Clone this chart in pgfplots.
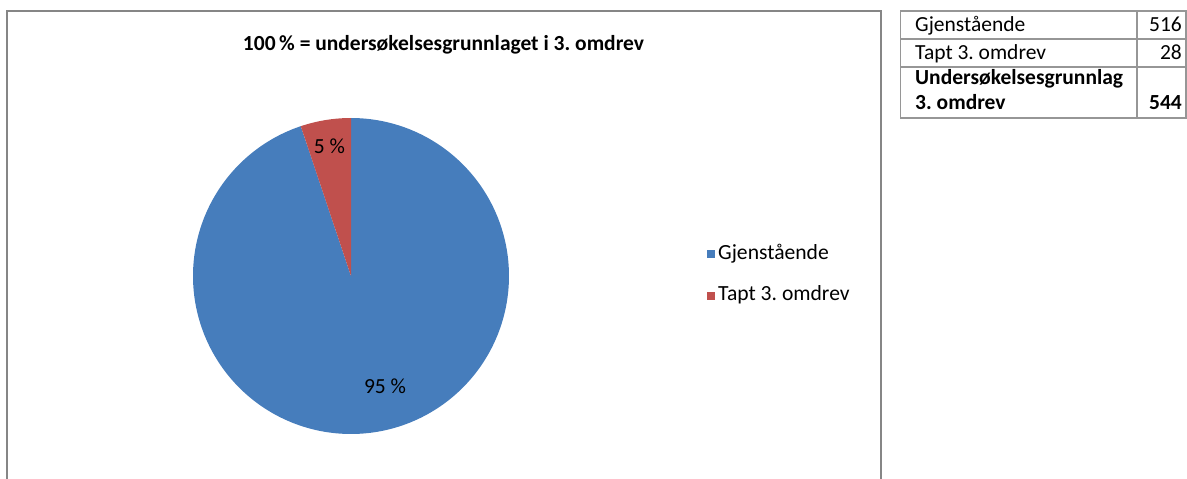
\documentclass[border=0pt]{standalone}
\usepackage{fontspec}
\setmainfont{Carlito}
\usepackage{pgfplots}
\pgfplotsset{compat=1.18}
\usepgfplotslibrary{polar}
\definecolor{pieblue}{RGB}{70,125,188}
\definecolor{piered}{RGB}{192,80,77}
\definecolor{framegray}{RGB}{134,134,134}
\definecolor{tablegray}{RGB}{150,150,150}
\def\vGj{516}
\def\vTa{28}
\frenchspacing
\begin{document}
\begin{tikzpicture}[x=1pt,y=1pt]
\useasboundingbox (0,0) rectangle (1187,479);
\clip (0,0) rectangle (1187,479);
\pgfmathsetmacro\fracGj{\vGj/(\vGj+\vTa)}
\pgfmathsetmacro\fracTa{\vTa/(\vGj+\vTa)}
\pgfmathsetmacro\endGj{90-360*\fracGj}
\pgfmathsetmacro\endTa{90+360*\fracTa}
% chart frame
\draw[framegray, line width=2pt] (6.5,-10) -- (6.5,468) -- (881,468) -- (881,-10);
% title
\node[font=\bfseries\fontsize{21.5}{24}\selectfont, anchor=base] at (443.5,428) {100\,\% = undersøkelsesgrunnlaget i 3. omdrev};
\begin{polaraxis}[at={(351pt,203pt)}, anchor=center, scale only axis,
  width=316pt, height=316pt, hide axis, xmin=0, xmax=360, ymin=0, ymax=1,
  clip=false]
\addplot[draw=none, fill=pieblue, domain=\endGj:90, samples=400] {1} -- (axis cs:0,0) -- cycle;
\addplot[draw=none, fill=piered, domain=90:\endTa, samples=60] {1} -- (axis cs:0,0) -- cycle;
\node[font=\fontsize{21.5}{24}\selectfont] at (axis cs:99.4,0.834) {5 \%};
\node[font=\fontsize{21.5}{24}\selectfont] at (axis cs:-72.8,0.729) {95 \%};
\end{polaraxis}
% legend
\fill[pieblue] (707,220.5) rectangle (715,228.5);
\node[font=\fontsize{21.6}{24}\selectfont, anchor=base west, inner sep=0pt] at (718,219) {Gjenstående};
\fill[piered] (707,178.5) rectangle (715,186.5);
\node[font=\fontsize{21.6}{24}\selectfont, anchor=base west, inner sep=0pt] at (718,178) {Tapt 3. omdrev};
% table
\draw[tablegray, line width=1.6pt] (900.5,468) rectangle (1186,361);
\draw[tablegray, line width=1.6pt] (900.5,440) -- (1186,440);
\draw[tablegray, line width=1.6pt] (900.5,412) -- (1186,412);
\draw[tablegray, line width=1.6pt] (1137,468) -- (1137,361);
\begin{scope}[every node/.style={font=\fontsize{21.5}{24}\selectfont, inner sep=0pt}]
\node[anchor=base west] at (915,447) {Gjenstående};
\node[anchor=base west] at (915,419) {Tapt 3. omdrev};
\node[anchor=base west, font=\bfseries\fontsize{21.5}{24}\selectfont] at (915,394) {Undersøkelsesgrunnlag};
\node[anchor=base west, font=\bfseries\fontsize{21.5}{24}\selectfont] at (915,369) {3. omdrev};
\node[anchor=base east] at (1182,447) {516};
\node[anchor=base east] at (1182,419) {28};
\node[anchor=base east, font=\bfseries\fontsize{21.5}{24}\selectfont] at (1182,369) {544};
\end{scope}
\end{tikzpicture}
\end{document}
